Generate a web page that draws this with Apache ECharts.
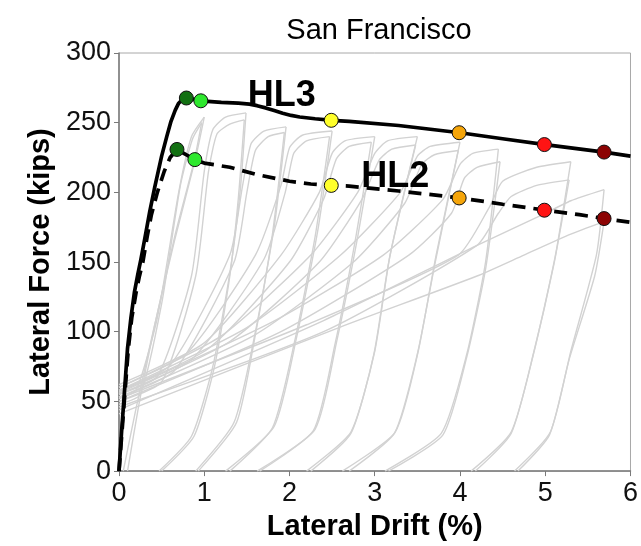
<!DOCTYPE html>
<html>
<head>
<meta charset="utf-8">
<script src="https://cdn.jsdelivr.net/npm/echarts@6/dist/echarts.min.js"></script>
<style>
  html, body { margin: 0; padding: 0; background: #fff; }
  #chart { width: 641px; height: 546px; }
</style>
</head>
<body>
<div id="chart"></div>
<script>
// Backbone curves (drift %, force kips)
const hl3Curve = [[0,0],[0.03,28],[0.062,55],[0.1,88],[0.14,110],[0.18,128],[0.22,141],[0.257,152],[0.3,166],[0.36,186],[0.42,204],[0.5,226],[0.56,240],[0.61,251],[0.66,259],[0.7,264],[0.74,266.5],[0.79,267.7],[0.96,265.7],[1.2,264.6],[1.4,264],[1.53,263.3],[1.62,262.2],[1.72,260.6],[1.82,258.7],[1.92,256.8],[2.02,255.2],[2.12,254.1],[2.3,252.8],[2.5,251.7],[2.7,251],[3.28,248],[4.0,242.8],[4.5,238.5],[5.0,234.3],[5.69,228.9],[6.0,226]];
const hl2Curve = [[0,0],[0.035,28],[0.068,55],[0.11,88],[0.15,110],[0.2,128],[0.24,140],[0.28,150],[0.33,168],[0.38,184],[0.45,200],[0.53,215],[0.6,225],[0.68,230.8],[0.89,223.5],[1.0,221],[1.3,218],[1.6,213],[2.0,208],[2.25,206],[2.5,205],[2.7,204.5],[3.28,201],[4.0,196],[4.5,191.5],[5.0,187.2],[5.4,184],[5.69,181.2],[6.0,178.5]];

// Performance points on each backbone
const hl3Points = [[0.79,267.7],[0.96,265.7],[2.49,251.7],[3.99,242.8],[4.99,234.3],[5.69,228.9]];
const hl2Points = [[0.68,230.8],[0.89,223.5],[2.49,205],[3.99,196],[4.99,187.2],[5.69,181.2]];
const pointColors = ['#127012','#2ee82e','#ffff2a','#f5a50a','#ff1414','#8c0303'];

// Cyclic test response: pinched reloading branches, two cycles per drift level
const reloadBranches = [
  [[0,52],[0.2,58],[0.45,110],[0.7,200],[0.85,240],[1.0,254]],
  [[0,48],[0.25,55],[0.5,120],[0.72,205],[0.86,238],[0.97,250]],
  [[0,55],[0.45,68],[0.85,140],[1.0,215],[1.1,245],[1.25,254],[1.49,257]],
  [[0,50],[0.5,64],[0.9,140],[1.05,215],[1.15,242],[1.3,249],[1.47,252]],
  [[0,58],[0.6,76],[1.3,155],[1.45,205],[1.55,235],[1.7,244],[1.96,247]],
  [[0,53],[0.65,72],[1.35,150],[1.5,200],[1.6,230],[1.75,240],[1.94,243]],
  [[0,60],[0.8,85],[1.6,155],[1.9,205],[2.0,232],[2.15,241],[2.5,244]],
  [[0,55],[0.85,80],[1.7,152],[1.95,200],[2.05,228],[2.2,237],[2.47,240]],
  [[0,62],[1.0,92],[1.9,155],[2.35,200],[2.5,228],[2.65,237],[3.0,240]],
  [[0,57],[1.05,88],[2.0,150],[2.4,195],[2.55,224],[2.7,233],[2.96,236]],
  [[0,60],[1.2,97],[2.25,155],[2.8,200],[3.0,228],[3.15,237],[3.5,240]],
  [[0,55],[1.3,93],[2.35,150],[2.85,195],[3.05,223],[3.2,231],[3.48,234]],
  [[0,58],[1.5,103],[2.6,155],[3.3,200],[3.5,226],[3.65,233],[4.0,236]],
  [[0,53],[1.6,98],[2.75,150],[3.35,192],[3.55,220],[3.7,227],[3.98,230]],
  [[0,56],[1.8,107],[3.1,155],[3.8,195],[4.0,220],[4.15,228],[4.45,231]],
  [[0,50],[1.9,100],[3.4,155],[3.9,185],[4.05,210],[4.2,218],[4.47,222]],
  [[0,52],[2.2,105],[3.98,155],[4.35,190],[4.5,208],[4.9,218],[5.3,222]],
  [[0,46],[2.4,100],[4.2,162],[4.45,185],[4.6,197],[4.9,205],[5.28,209]],
  [[0,44],[2.4,108],[4.2,162],[4.9,182],[5.3,194],[5.69,202]],
  [[0,41],[2.58,103],[4.2,140],[4.75,155],[5.3,170],[5.69,179]]
];
// Unloading branches from each peak down to zero force
const unloadBranches = [
  [[1.0,254],[0.9,225],[0.65,165],[0.4,100],[0.2,45],[0.05,0]],
  [[0.97,250],[0.88,222],[0.66,170],[0.42,105],[0.24,50],[0.1,0]],
  [[1.49,257],[1.42,200],[1.3,142],[1.1,75],[0.85,25],[0.47,0]],
  [[1.47,252],[1.4,196],[1.3,140],[1.12,75],[0.88,25],[0.5,0]],
  [[1.96,247],[1.82,175],[1.6,100],[1.35,35],[0.9,0]],
  [[1.94,243],[1.8,170],[1.6,98],[1.38,35],[0.93,0]],
  [[2.5,244],[2.33,172],[2.08,95],[1.82,32],[1.25,0]],
  [[2.47,240],[2.3,168],[2.06,93],[1.8,31],[1.3,0]],
  [[3.0,240],[2.8,168],[2.55,92],[2.3,30],[1.62,0]],
  [[2.96,236],[2.77,165],[2.53,90],[2.28,29],[1.65,0]],
  [[3.5,240],[3.18,155],[3.0,86],[2.72,28],[2.2,0]],
  [[3.48,234],[3.17,152],[2.99,84],[2.72,27],[2.25,0]],
  [[4.0,236],[3.72,155],[3.51,86],[3.24,28],[2.62,0]],
  [[3.98,230],[3.71,150],[3.5,84],[3.23,27],[2.7,0]],
  [[4.45,231],[4.3,150],[4.08,84],[3.78,27],[3.12,0]],
  [[4.47,222],[4.3,145],[4.08,82],[3.8,26],[3.16,0]],
  [[5.3,222],[5.12,155],[4.87,86],[4.6,28],[4.13,0]],
  [[5.28,209],[5.1,148],[4.86,84],[4.6,27],[4.18,0]],
  [[5.69,202],[5.6,155],[5.3,86],[5.06,28],[4.64,0]],
  [[5.69,179],[5.58,140],[5.28,80],[5.05,26],[4.68,0]]
];

// Axis ticks and labels
const xTicks = [0, 1, 2, 3, 4, 5, 6];
const yTicks = [0, 50, 100, 150, 200, 250, 300];
const curveLabels = [{ name: 'HL3', pos: [1.91, 269] }, { name: 'HL2', pos: [3.24, 211] }];

const FONT = 'Liberation Sans, Arial, Helvetica, sans-serif';
const GRAY = '#d2d2d2';

const series = [];
reloadBranches.concat(unloadBranches).forEach(function (pts) {
  series.push({
    type: 'line', data: pts, showSymbol: false, smooth: 0.2, silent: true,
    lineStyle: { color: GRAY, width: 1.4 }, z: 1
  });
});
series.push({
  type: 'line', name: 'HL3', data: hl3Curve, showSymbol: false, smooth: false, silent: true,
  lineStyle: { color: '#000', width: 3.7, join: 'round' }, z: 5
});
series.push({
  type: 'line', name: 'HL2', data: hl2Curve, showSymbol: false, smooth: false, silent: true,
  lineStyle: { color: '#000', width: 3.7, type: [13, 8] }, z: 5
});
[hl3Points, hl2Points].forEach(function (pts) {
  series.push({
    type: 'scatter', symbolSize: 14, silent: true, z: 10,
    itemStyle: { opacity: 1 },
    data: pts.map(function (p, i) {
      return { value: p, itemStyle: { color: pointColors[i], borderColor: '#111', borderWidth: 1, opacity: 1 } };
    })
  });
});
series.push({
  type: 'scatter', symbolSize: 1, silent: true, z: 12,
  itemStyle: { opacity: 0 },
  data: curveLabels.map(function (c) {
    return { value: c.pos, label: { show: true, formatter: c.name, position: 'inside',
      fontFamily: FONT, fontWeight: 'bold', fontSize: 36, color: '#000', opacity: 1,
      textBorderWidth: 0 } };
  })
});

const chart = echarts.init(document.getElementById('chart'), null, { renderer: 'canvas' });
chart.setOption({
  animation: false,
  backgroundColor: '#fff',
  title: {
    text: 'San Francisco', left: 374, top: 11, textAlign: 'center',
    textStyle: { fontFamily: FONT, fontWeight: 'normal', fontSize: 29, color: '#000' }
  },
  grid: { left: 119, right: 8, top: 53, bottom: 63, show: true, borderColor: '#a8a8a8', borderWidth: 1, backgroundColor: 'transparent' },
  xAxis: {
    type: 'value', min: xTicks[0], max: xTicks[xTicks.length - 1], interval: 1,
    name: 'Lateral Drift (%)', nameLocation: 'middle', nameGap: 32,
    nameTextStyle: { fontFamily: FONT, fontWeight: 'bold', fontSize: 29, color: '#000' },
    axisLine: { show: true, lineStyle: { color: '#7a7a7a', width: 1.5 } },
    axisTick: { show: true, length: 5, lineStyle: { color: '#7a7a7a' } },
    axisLabel: { fontFamily: FONT, fontSize: 27, color: '#111', margin: 9 },
    splitLine: { show: false }
  },
  yAxis: {
    type: 'value', min: yTicks[0], max: yTicks[yTicks.length - 1], interval: 50,
    name: 'Lateral Force (kips)', nameLocation: 'middle', nameGap: 58, nameRotate: 90,
    nameTextStyle: { fontFamily: FONT, fontWeight: 'bold', fontSize: 29, color: '#000' },
    axisLine: { show: true, lineStyle: { color: '#7a7a7a', width: 1.5 } },
    axisTick: { show: true, length: 5, lineStyle: { color: '#7a7a7a' } },
    axisLabel: { fontFamily: FONT, fontSize: 27, color: '#111', margin: 8 },
    splitLine: { show: false }
  },
  series: series
});
</script>
</body>
</html>
